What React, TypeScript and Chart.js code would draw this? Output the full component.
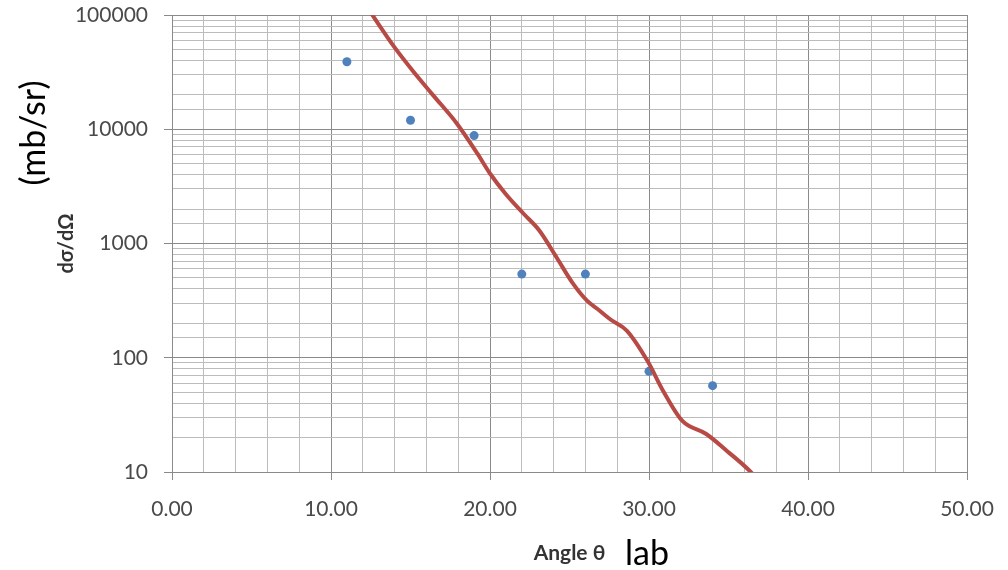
import React, { useEffect, useRef } from "react";
import { Chart, registerables } from "chart.js";

Chart.register(...registerables);

// Measured points (blue dots)
const pointAngles = [11, 15, 19, 22, 26, 30, 34];
const pointValues = [39000, 12000, 8800, 540, 540, 76, 57];

// Calculated curve (red line)
const curveAngles = [12.4, 14.0, 15.1, 16.4, 17.9, 19.2, 20.0, 21.0, 22.1, 23.1, 24.2, 25.2, 26.1, 26.9, 27.6, 28.6, 29.9, 30.9, 32.1, 33.6, 34.9, 36.4, 37.0];
const curveValues = [110000, 52000, 33000, 20000, 11300, 6150, 4100, 2700, 1830, 1300, 750, 450, 316, 258, 215, 173, 94, 51, 28, 21.5, 15.3, 10, 8];

const xMajorTicks = [0, 10, 20, 30, 40, 50];
const yMajorTicks = [10, 100, 1000, 10000, 100000];

const xTitle = "Angle θ";
const yTitle = "dσ/dΩ";
const yUnit = "(mb/sr)";
const xUnit = "lab";

const isMajorY = (v: number) => yMajorTicks.some((m) => Math.abs(m - v) < 1e-6);
const isMajorX = (v: number) => xMajorTicks.some((m) => Math.abs(m - v) < 1e-6);

const extraText = {
  id: "extraText",
  afterDraw(chart: any) {
    const ctx = chart.ctx;
    ctx.save();
    ctx.fillStyle = "#000000";
    ctx.font = "34px Lato";
    ctx.textAlign = "center";
    ctx.textBaseline = "middle";
    ctx.save();
    ctx.translate(34, 133);
    ctx.rotate(-Math.PI / 2);
    ctx.fillText(yUnit, 0, 0);
    ctx.restore();
    ctx.textAlign = "left";
    ctx.textBaseline = "alphabetic";
    ctx.fillText(xUnit, 625, 565);
    ctx.restore();
  },
};

export default function App() {
  const ref = useRef<HTMLCanvasElement | null>(null);
  useEffect(() => {
    if (!ref.current) return;
    const chart = new Chart(ref.current, {
      type: "scatter",
      data: {
        datasets: [
          {
            label: "curve",
            data: curveAngles.map((x, i) => ({ x, y: curveValues[i] })),
            showLine: true,
            borderColor: "#B84A46",
            backgroundColor: "#B84A46",
            borderWidth: 4,
            pointRadius: 0,
            cubicInterpolationMode: "monotone",
          } as any,
          {
            label: "data",
            data: pointAngles.map((x, i) => ({ x, y: pointValues[i] })),
            showLine: false,
            backgroundColor: "#4F81BD",
            borderColor: "#4F81BD",
            pointRadius: 4.5,
            pointBorderWidth: 0,
          },
        ],
      },
      options: {
        responsive: false,
        animation: false,
        devicePixelRatio: 1,
        layout: { padding: { left: 0, top: 15, right: 41, bottom: 0 } },
        plugins: {
          legend: { display: false },
          tooltip: { enabled: false },
        },
        scales: {
          x: {
            type: "linear",
            min: 0,
            max: 50,
            ticks: {
              stepSize: 2,
              autoSkip: false,
              maxRotation: 0,
              padding: 17,
              color: "#4a4a4a",
              font: { family: "Lato", size: 21 },
              callback: (v: any) => (isMajorX(Number(v)) ? Number(v).toFixed(2) : ""),
            },
            grid: {
              color: (c: any) => (isMajorX(c.tick?.value) ? "#8a8a8a" : "#bcbcbc"),
              tickColor: (c: any) => (isMajorX(c.tick?.value) ? "#8a8a8a" : "rgba(0,0,0,0)"),
              tickLength: 8,
              lineWidth: 1,
            },
            border: { color: "#8a8a8a" },
            title: {
              display: true,
              text: xTitle,
              color: "#333333",
              font: { family: "Lato", size: 21, weight: "bold" },
              padding: 4,
            },
            afterFit: (s: any) => {
              s.height = 98;
              s.paddingLeft = 0;
              s.paddingRight = 0;
            },
          },
          y: {
            type: "logarithmic",
            min: 10,
            max: 100000,
            ticks: {
              autoSkip: false,
              padding: 16,
              color: "#4a4a4a",
              font: { family: "Lato", size: 21 },
              callback: (v: any) => (isMajorY(Number(v)) ? String(Number(v)) : ""),
            },
            grid: {
              color: (c: any) => (isMajorY(c.tick?.value) ? "#8a8a8a" : "#bcbcbc"),
              tickColor: (c: any) => (isMajorY(c.tick?.value) ? "#8a8a8a" : "rgba(0,0,0,0)"),
              tickLength: 8,
              lineWidth: 1,
            },
            border: { color: "#8a8a8a" },
            title: {
              display: true,
              text: yTitle,
              color: "#333333",
              font: { family: "Lato", size: 20, weight: "bold" },
              padding: 55,
            },
            afterFit: (s: any) => {
              s.width = 172;
              s.paddingTop = 0;
              s.paddingBottom = 0;
            },
          },
        },
      },
      plugins: [extraText],
    });
    return () => chart.destroy();
  }, []);
  return (
    <div style={{ position: "absolute", left: 0, top: 0, width: 1008, height: 570, background: "#ffffff" }}>
      <canvas ref={ref} width={1008} height={570} />
    </div>
  );
}
